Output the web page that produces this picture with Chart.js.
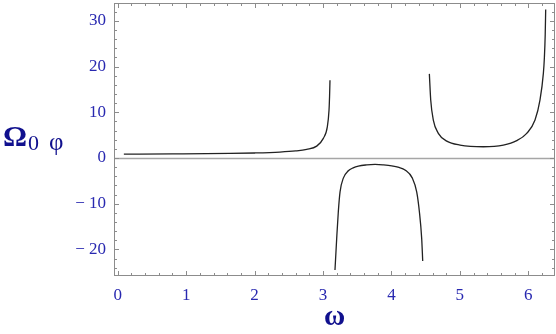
<!DOCTYPE html>
<html><head><meta charset="utf-8">
<script src="https://cdn.jsdelivr.net/npm/chart.js@4/dist/chart.umd.min.js"></script>
<style>html,body{margin:0;padding:0;background:#fff;}#wrap{width:556px;height:334px;}</style>
</head><body><div id="wrap"><canvas id="c" width="556" height="334"></canvas></div>
<script>
// ---- data ----
const branch1X = [0.09, 0.8, 1.64, 2.0, 2.37, 2.6, 2.762, 2.908, 3.005, 3.063, 3.088, 3.096, 3.102];
const branch1Y = [0.85, 0.9, 1.0, 1.1, 1.3, 1.55, 1.9, 2.6, 4.3, 6.8, 10.5, 13.5, 17.0];
const branch2X = [3.175, 3.200, 3.224, 3.249, 3.297, 3.370, 3.440, 3.516, 3.640, 3.760, 3.880, 4.004, 4.110, 4.198, 4.306, 4.369, 4.408, 4.442, 4.457];
const branch2Y = [-24.5, -17.6, -11.7, -7.4, -4.4, -2.8, -2.15, -1.75, -1.5, -1.4, -1.5, -1.7, -2.05, -2.6, -4.4, -7.4, -11.7, -17.6, -22.5];
const branch3X = [4.554, 4.574, 4.612, 4.685, 4.808, 5.002, 5.343, 5.635, 5.831, 5.977, 6.098, 6.171, 6.220, 6.235, 6.247, 6.254];
const branch3Y = [18.4, 12.7, 8.3, 5.4, 3.7, 2.84, 2.47, 2.84, 3.8, 5.4, 8.3, 12.7, 18.5, 22.0, 27.0, 32.5];
const xTickValues = [0, 1, 2, 3, 4, 5, 6];
const xTickLabels = ['0', '1', '2', '3', '4', '5', '6'];
const yTickValues = [-20, -10, 0, 10, 20, 30];
const yTickLabels = ['\u2212 20', '\u2212 10', '0', '10', '20', '30'];
const xMinorStep = 0.2;
const yMinorStep = 2;
const xRange = [-0.054, 6.39];
const yRange = [-25.8, 33.9];
const xTitle = '\u03c9';
const yTitleMain = '\u03a9';
const yTitleSub = ['0', '\u03c6'];

const tickColor = '#2828b0';
const titleColor = '#10108e';
const serif = '"Liberation Serif", "DejaVu Serif", serif';

function series(xs, ys) {
  return {
    data: xs.map((x, i) => ({x: x, y: ys[i]})),
    borderColor: '#222222', borderWidth: 1.3, pointRadius: 0,
    fill: false, cubicInterpolationMode: 'monotone'
  };
}

const framePlugin = {
  id: 'frame',
  beforeDatasetsDraw(chart) {
    const {ctx, chartArea: a, scales: {y}} = chart;
    const y0 = Math.round(y.getPixelForValue(0)) + 0.5;
    ctx.save();
    ctx.strokeStyle = '#a6a6a6'; ctx.lineWidth = 1.5;
    ctx.beginPath(); ctx.moveTo(a.left, y0); ctx.lineTo(a.right, y0); ctx.stroke();
    ctx.restore();
  },
  afterDraw(chart) {
    const {ctx, chartArea: a, scales: {x, y}} = chart;
    ctx.save();
    ctx.strokeStyle = '#8c8c8c'; ctx.lineWidth = 1;
    const L = a.left + 0.5, R = a.right - 0.5, T = a.top + 0.5, B = a.bottom - 0.5;
    ctx.strokeRect(L, T, R - L, B - T);
    ctx.beginPath();
    const nx0 = Math.ceil(xRange[0] / xMinorStep), nx1 = Math.floor(xRange[1] / xMinorStep);
    for (let k = nx0; k <= nx1; k++) {
      const v = k * xMinorStep;
      const major = Math.abs(v - Math.round(v)) < 1e-6;
      const len = major ? 4.5 : 2.5;
      const px = Math.round(x.getPixelForValue(v)) + 0.5;
      ctx.moveTo(px, B); ctx.lineTo(px, B - len);
      ctx.moveTo(px, T); ctx.lineTo(px, T + len);
    }
    const ny0 = Math.ceil(yRange[0] / yMinorStep), ny1 = Math.floor(yRange[1] / yMinorStep);
    for (let k = ny0; k <= ny1; k++) {
      const v = k * yMinorStep;
      const major = v % 10 === 0;
      const len = major ? 4.5 : 2.5;
      const py = Math.round(y.getPixelForValue(v)) + 0.5;
      ctx.moveTo(L, py); ctx.lineTo(L + len, py);
      ctx.moveTo(R, py); ctx.lineTo(R - len, py);
    }
    ctx.stroke();
    ctx.fillStyle = titleColor;
    ctx.textBaseline = 'alphabetic';
    ctx.textAlign = 'left';
    ctx.font = 'bold 30px ' + serif;
    ctx.fillText(yTitleMain, 3, 146);
    ctx.font = '22px ' + serif;
    ctx.fillText(yTitleSub[0], 28, 150);
    ctx.font = '25px ' + serif;
    ctx.fillText(yTitleSub[1], 49, 150);
    ctx.font = 'bold 29px ' + serif;
    ctx.textAlign = 'center';
    ctx.fillText(xTitle, (a.left + a.right) / 2, 325);
    ctx.restore();
  }
};

function noPad(s) { s.paddingTop = 0; s.paddingBottom = 0; s.paddingLeft = 0; s.paddingRight = 0; }

new Chart(document.getElementById('c'), {
  type: 'line',
  data: {datasets: [series(branch1X, branch1Y), series(branch2X, branch2Y), series(branch3X, branch3Y)]},
  options: {
    responsive: false, animation: false, devicePixelRatio: 1,
    layout: {padding: {top: 3, right: 1, left: 0, bottom: 0}},
    plugins: {legend: {display: false}, tooltip: {enabled: false}},
    elements: {point: {radius: 0}},
    scales: {
      x: {
        type: 'linear', min: xRange[0], max: xRange[1],
        grid: {display: false, drawTicks: false}, border: {display: false},
        afterBuildTicks: s => { s.ticks = xTickValues.map(v => ({value: v})); },
        ticks: {
          callback: v => xTickLabels[xTickValues.indexOf(v)],
          font: {family: serif, size: 17}, color: tickColor, padding: 9,
          maxRotation: 0, autoSkip: false
        },
        afterFit: s => { s.height = 58; noPad(s); }
      },
      y: {
        type: 'linear', min: yRange[0], max: yRange[1],
        grid: {display: false, drawTicks: false}, border: {display: false},
        afterBuildTicks: s => { s.ticks = yTickValues.map(v => ({value: v})); },
        ticks: {
          callback: v => yTickLabels[yTickValues.indexOf(v)],
          font: {family: serif, size: 17}, color: tickColor, padding: 8,
          autoSkip: false
        },
        afterFit: s => { s.width = 114; noPad(s); }
      }
    }
  },
  plugins: [framePlugin]
});
</script>
</body></html>
